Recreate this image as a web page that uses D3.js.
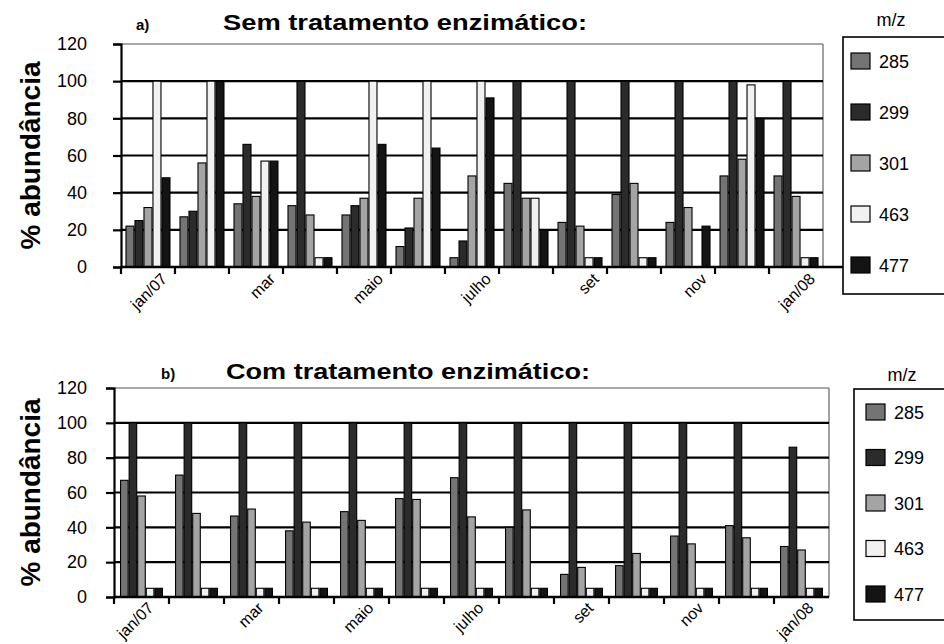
<!DOCTYPE html>
<html>
<head>
<meta charset="utf-8">
<script src="https://cdn.jsdelivr.net/npm/d3@7"></script>
<style>
  html, body { margin: 0; padding: 0; background: #fff; }
  svg { display: block; }
  text { font-family: "Liberation Sans", Arial, sans-serif; fill: #000; }
</style>
</head>
<body>
<svg id="chart" width="944" height="644"></svg>
<script>
// Monthly samples, Jan 2007 – Jan 2008
const months = ["jan/07", "fev", "mar", "abr", "maio", "jun", "julho", "ago", "set", "out", "nov", "dez", "jan/08"];
const monthLabels = ["jan/07", "", "mar", "", "maio", "", "julho", "", "set", "", "nov", "", "jan/08"];
const ions = ["285", "299", "301", "463", "477"];
const yTicks = [0, 20, 40, 60, 80, 100, 120];

// a) without enzymatic treatment (% relative abundance)
const semT285 = [22, 27, 34, 33, 28, 11, 5, 45, 24, 39, 24, 49, 49];
const semT299 = [25, 30, 66, 100, 33, 21, 14, 100, 100, 100, 100, 100, 100];
const semT301 = [32, 56, 38, 28, 37, 37, 49, 37, 22, 45, 32, 58, 38];
const semT463 = [100, 100, 57, 5, 100, 100, 100, 37, 5, 5, 0, 98, 5];
const semT477 = [48, 100, 57, 5, 66, 64, 91, 20, 5, 5, 22, 80, 5];

// b) with enzymatic treatment
const comT285 = [67, 70, 46.5, 38, 49, 56.5, 68.5, 40, 13, 18, 35, 41, 29];
const comT299 = [100, 100, 100, 100, 100, 100, 100, 100, 100, 100, 100, 100, 86];
const comT301 = [58, 48, 50.5, 43, 44, 56, 46, 50, 17, 25, 30.5, 34, 27];
const comT463 = [5, 5, 5, 5, 5, 5, 5, 5, 5, 5, 5, 5, 5];
const comT477 = [5, 5, 5, 5, 5, 5, 5, 5, 5, 5, 5, 5, 5];

const ionColors = ["#747474", "#2b2b2b", "#a4a4a4", "#f1f1f1", "#141414"];

const svg = d3.select("#chart");
const color = d3.scaleOrdinal().domain(ions).range(ionColors);

function panel(cfg) {
  const series = cfg.series;
  const rows = months.map((m, i) => ({ month: m, values: ions.map((ion, k) => ({ ion, v: series[k][i] })) }));

  const x = d3.scaleBand().domain(months).range([cfg.left, cfg.right])
    .paddingInner(cfg.padIn).paddingOuter(cfg.padOut);
  const xi = d3.scaleBand().domain(ions).range([0, x.bandwidth()]);
  const y = d3.scaleLinear().domain([0, 120]).range([cfg.bottom, cfg.top]);

  const g = svg.append("g");

  // plot-area frame (top and right)
  g.append("line").attr("x1", cfg.left).attr("x2", cfg.right)
    .attr("y1", y(120)).attr("y2", y(120))
    .attr("stroke", "#8a8a8a").attr("stroke-width", 1.6);
  g.append("line").attr("x1", cfg.right).attr("x2", cfg.right)
    .attr("y1", y(120)).attr("y2", y(0))
    .attr("stroke", "#8a8a8a").attr("stroke-width", 1.6);

  // horizontal gridlines
  g.selectAll("line.grid").data(yTicks.filter(t => t > 0 && t < 120)).join("line")
    .attr("class", "grid")
    .attr("x1", cfg.left).attr("x2", cfg.right)
    .attr("y1", d => y(d)).attr("y2", d => y(d))
    .attr("stroke", "#000").attr("stroke-width", 2.2);

  // bars
  const groups = g.selectAll("g.month").data(rows).join("g")
    .attr("class", "month")
    .attr("transform", d => `translate(${x(d.month)},0)`);
  groups.selectAll("rect").data(d => d.values.filter(e => e.v > 0)).join("rect")
    .attr("x", d => xi(d.ion) + 0.5)
    .attr("width", xi.bandwidth() - 1)
    .attr("y", d => y(d.v))
    .attr("height", d => y(0) - y(d.v))
    .attr("fill", d => color(d.ion))
    .attr("stroke", "#000").attr("stroke-width", 1.1);

  // y axis
  const yAxis = d3.axisLeft(y).tickValues(yTicks).tickSize(8).tickPadding(cfg.tickPad);
  const ya = g.append("g").attr("transform", `translate(${cfg.left},0)`).call(yAxis);
  ya.select(".domain").attr("stroke", "#000").attr("stroke-width", 2.2);
  ya.selectAll(".tick line").attr("stroke", "#000").attr("stroke-width", 2.2);
  ya.selectAll(".tick text").attr("font-size", 18).attr("font-family", "Liberation Sans, Arial, sans-serif")
    .attr("fill", "#111");

  // x axis: tick marks between months
  const bounds = months.map(m => x(m) - (x.step() - x.bandwidth()) / 2).concat([cfg.right]);
  g.append("line").attr("x1", cfg.left).attr("x2", cfg.axisEnd)
    .attr("y1", y(0)).attr("y2", y(0))
    .attr("stroke", "#000").attr("stroke-width", 2.4);
  g.selectAll("line.xtick").data(bounds.slice(1, -1)).join("line")
    .attr("class", "xtick")
    .attr("x1", d => d).attr("x2", d => d)
    .attr("y1", y(0)).attr("y2", y(0) + 7)
    .attr("stroke", "#000").attr("stroke-width", 2.2);
  g.append("line").attr("x1", cfg.left).attr("x2", cfg.left)
    .attr("y1", y(0)).attr("y2", y(0) + 7)
    .attr("stroke", "#000").attr("stroke-width", 2.2);

  // month labels, rotated
  g.selectAll("text.xl").data(months.map((m, i) => ({ m, label: monthLabels[i] })).filter(d => d.label))
    .join("text")
    .attr("class", "xl")
    .attr("text-anchor", "end")
    .attr("font-size", 16)
    .attr("transform", d => `translate(${x(d.m) + x.bandwidth() / 2 + cfg.labelDx},${y(0) + cfg.labelDy}) rotate(-45)`)
    .text(d => d.label);

  // y title
  g.append("text")
    .attr("transform", `translate(${cfg.yTitleX},${(y(0) + y(120)) / 2 + cfg.yTitleDy}) rotate(-90)`)
    .attr("text-anchor", "middle")
    .attr("font-size", 27).attr("font-weight", "bold")
    .attr("textLength", 188).attr("lengthAdjust", "spacingAndGlyphs")
    .text("% abundância");

  // panel tag and title
  g.append("text").attr("x", cfg.tagX).attr("y", cfg.titleY)
    .attr("font-size", 15).attr("font-weight", "bold").text(cfg.tag);
  g.append("text").attr("x", cfg.titleX).attr("y", cfg.titleY)
    .attr("font-size", 22).attr("font-weight", "bold")
    .attr("textLength", 364).attr("lengthAdjust", "spacingAndGlyphs")
    .text(cfg.title);

  // legend
  const L = cfg.legend;
  g.append("text").attr("x", L.x + 48).attr("y", L.titleY)
    .attr("text-anchor", "middle").attr("font-size", 18).text("m/z");
  g.append("rect").attr("x", L.x).attr("y", L.top).attr("width", 140).attr("height", L.bottom - L.top)
    .attr("fill", "none").attr("stroke", "#000").attr("stroke-width", 1.6);
  const li = g.selectAll("g.leg").data(ions).join("g")
    .attr("class", "leg")
    .attr("transform", (d, i) => `translate(${L.x + L.inset},${L.firstY + i * L.gap})`);
  li.append("rect").attr("x", 0).attr("y", -8).attr("width", 19).attr("height", 16)
    .attr("fill", d => color(d)).attr("stroke", "#000").attr("stroke-width", 1.2);
  li.append("text").attr("x", 28).attr("y", 6.5).attr("font-size", 18).text(d => d);
}

panel({
  series: [semT285, semT299, semT301, semT463, semT477],
  left: 121, right: 823, top: 44, bottom: 267, axisEnd: 843,
  padIn: 0.167, padOut: 0.083, tickPad: 26,
  labelDx: 20, labelDy: 13,
  yTitleX: 40, yTitleDy: 0,
  tag: "a)", tagX: 136, titleX: 223, titleY: 30,
  title: "Sem tratamento enzimático:",
  legend: { x: 843, top: 37, bottom: 294, titleY: 26, firstY: 61, gap: 51, inset: 8 }
});

panel({
  series: [comT285, comT299, comT301, comT463, comT477],
  left: 114, right: 829, top: 388, bottom: 597, axisEnd: 829,
  padIn: 0.22, padOut: 0.11, tickPad: 19,
  labelDx: 13, labelDy: 12,
  yTitleX: 40, yTitleDy: 0,
  tag: "b)", tagX: 161, titleX: 226, titleY: 379,
  title: "Com tratamento enzimático:",
  legend: { x: 854, top: 389, bottom: 620, titleY: 381, firstY: 412, gap: 45.5, inset: 12 }
});
</script>
</body>
</html>
